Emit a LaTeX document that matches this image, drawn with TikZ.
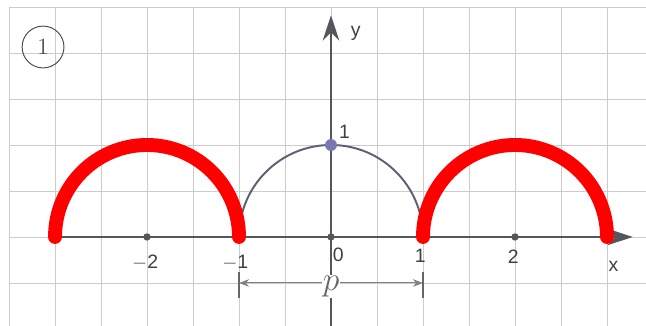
\documentclass[tikz,border=0pt]{standalone}
\usepackage{fontspec}
\setsansfont{Liberation Sans}
\usetikzlibrary{arrows.meta,positioning}
\definecolor{axgray}{RGB}{85,85,92}
\definecolor{semigray}{RGB}{95,95,115}
\definecolor{dotblue}{RGB}{120,120,180}
\tikzset{
  >={Stealth[length=2.2mm]},
  gridline/.style={line width=0.5pt,black!20},
  axis/.style={-{Stealth[length=5.5mm,width=3.6mm,inset=1.8mm]},line width=1.2pt,axgray},
  semiarc/.style={line width=1.2pt,semigray},
  redarc/.style={line width=8.6pt,red,line cap=round},
  axdot/.style={circle,fill=axgray,inner sep=0pt,minimum size=1.6mm},
  topdot/.style={circle,fill=dotblue,inner sep=0pt,minimum size=2.6mm},
  numlbl/.style={font=\sffamily\large,text=black!75,inner sep=1pt},
  dimtick/.style={line width=0.7pt,black!60},
  dimarrow/.style={->,line width=0.6pt,black!50},
  tagcircle/.style={circle,draw=black!70,line width=0.6pt,minimum size=9.1mm,
    inner sep=0pt,font=\rmfamily\Large,text=black!70},
}

\begin{document}
\begin{tikzpicture}[x=2cm,y=2cm]
  \useasboundingbox (-3.598,-0.967) rectangle (3.424,2.576);
  \draw[gridline] (-3.5,-1) grid[step=0.5] (3.6,2.5);
  \node[tagcircle] (tag) at (-3.13,2.065) {1};
  % axes
  \coordinate (O) at (0,0);
  \coordinate (xstart) at (-3,0);
  \coordinate (xtip) at (3.28,0);
  \coordinate (ybot) at (0,-0.97);
  \coordinate (ytip) at (0,2.41);
  \draw[axis] (xstart) -- (xtip);
  \draw[axis] (ybot) -- (ytip);
  \node[numlbl] (xlbl) at (3.07,-0.32) {x};
  \node[numlbl] (ylbl) at (0.27,2.21) {y};
  % graph
  \draw[semiarc] (-1,0) arc[start angle=180,end angle=0,radius=1];
  \draw[redarc] (-3,0) arc[start angle=180,end angle=0,radius=1];
  \draw[redarc] (1,0) arc[start angle=180,end angle=0,radius=1];
  \node[topdot] (top) at (0,1) {};
  \node[numlbl,above right=0pt and 1pt of top] (toplbl) {1};
  \foreach \x in {-2,0,2} \node[axdot] (d\x) at (\x,0) {};
  \node[numlbl] (lm2) at (-2.02,-0.28) {$-$2};
  \node[numlbl] (lm1) at (-1.04,-0.28) {$-$1};
  \node[numlbl] (l0) at (0.08,-0.19) {0};
  \node[numlbl] (l1) at (0.97,-0.21) {1};
  \node[numlbl] (l2) at (1.98,-0.21) {2};
  % period
  \node[fill=white,inner sep=0.5pt,font=\huge,text=black!60] (p) at (0,-0.54) {$p$};
  \coordinate (dl) at (-1,-0.5);
  \coordinate (dr) at (1,-0.5);
  \foreach \s in {-1,1} \draw[dimtick] (\s,-0.38) -- (\s,-0.66);
  \draw[dimarrow] (p.west |- dl) -- (dl);
  \draw[dimarrow] (p.east |- dr) -- (dr);
\end{tikzpicture}
\end{document}
